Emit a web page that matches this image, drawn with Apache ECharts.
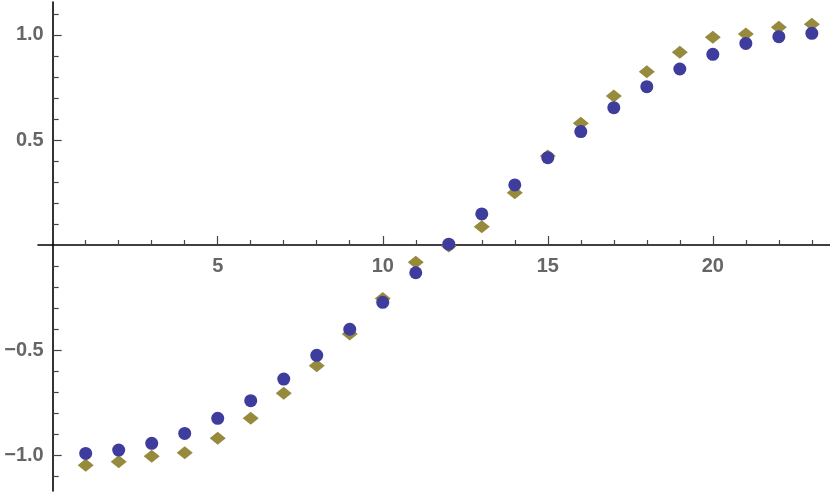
<!DOCTYPE html>
<html>
<head>
<meta charset="utf-8">
<title>ListPlot</title>
<script src="https://cdn.jsdelivr.net/npm/echarts@6/dist/echarts.min.js"></script>
<style>
	html, body { margin: 0; padding: 0; background: #fff; }
	#chart { width: 830px; height: 494px; }
</style>
</head>
<body>
<div id="chart"></div>
<script>
// x positions 1..23
var xs = [1, 2, 3, 4, 5, 6, 7, 8, 9, 10, 11, 12, 13, 14, 15, 16, 17, 18, 19, 20, 21, 22, 23];
// blue circles
var circleVals = [-0.992, -0.976, -0.944, -0.897, -0.825, -0.741, -0.638, -0.525, -0.401, -0.273, -0.132, 0.004,
	0.148, 0.286, 0.416, 0.540, 0.654, 0.754, 0.838, 0.908, 0.960, 0.992, 1.008];
// olive diamonds
var diamondVals = [-1.048, -1.032, -1.005, -0.989, -0.920, -0.825, -0.706, -0.575, -0.424, -0.254, -0.082, -0.005,
	0.087, 0.249, 0.424, 0.580, 0.710, 0.825, 0.918, 0.989, 1.005, 1.037, 1.051];
// tick labels
var xMajor = [5, 10, 15, 20];
var xMinor = [1, 2, 3, 4, 6, 7, 8, 9, 11, 12, 13, 14, 16, 17, 18, 19, 21, 22, 23];
var yMajor = [-1, -0.5, 0.5, 1];
var yMinor = [-1.1, -0.9, -0.8, -0.7, -0.6, -0.4, -0.3, -0.2, -0.1, 0.1, 0.2, 0.3, 0.4, 0.6, 0.7, 0.8, 0.9, 1.1];

var X_MIN = -0.445, X_MAX = 23.55;
var Y_MIN = -1.171, Y_MAX = 1.157;
var G_LEFT = 38, G_RIGHT = 0, G_TOP = 2, G_BOTTOM = 3;
var W = 830, H = 494;

// axes sit at the zero of the other axis, shifted there by offset
var gw = W - G_LEFT - G_RIGHT, gh = H - G_TOP - G_BOTTOM;
var xOffset = -(0 - Y_MIN) / (Y_MAX - Y_MIN) * gh;   // bottom axis moved up
var yOffset = -(0 - X_MIN) / (X_MAX - X_MIN) * gw;   // left axis moved right

function pairs(vals) {
	var out = [];
	for (var i = 0; i < xs.length; i++) {
		out.push([xs[i], vals[i]]);
	}
	return out;
}

var labelStyle = {
	color: '#666666',
	fontSize: 20,
	fontWeight: 'bold',
	fontFamily: 'Liberation Sans, Arial, sans-serif'
};

var myChart = echarts.init(document.getElementById('chart'));
myChart.setOption({
	animation: false,
	grid: { left: G_LEFT, right: G_RIGHT, top: G_TOP, bottom: G_BOTTOM, containLabel: false, outerBoundsMode: 'none' },
	xAxis: [{
		type: 'value',
		position: 'bottom',
		offset: xOffset,
		min: X_MIN,
		max: X_MAX,
		axisLine: { onZero: false, lineStyle: { color: '#000', width: 1.6 } },
		axisTick: { inside: true, length: 9, customValues: xMajor, lineStyle: { color: '#444', width: 1.2 } },
		axisLabel: Object.assign({ customValues: xMajor, margin: 11 }, labelStyle),
		splitLine: { show: false }
	}, {
		type: 'value',
		position: 'bottom',
		offset: xOffset,
		min: X_MIN,
		max: X_MAX,
		axisLine: { show: false, onZero: false },
		axisTick: { inside: true, length: 5, customValues: xMinor, lineStyle: { color: '#444', width: 1.2 } },
		axisLabel: { show: false },
		splitLine: { show: false }
	}],
	yAxis: [{
		type: 'value',
		position: 'left',
		offset: yOffset,
		min: Y_MIN,
		max: Y_MAX,
		axisLine: { onZero: false, lineStyle: { color: '#000', width: 1.6 } },
		axisTick: { inside: true, length: 9, customValues: yMajor, lineStyle: { color: '#444', width: 1.2 } },
		axisLabel: Object.assign({
			customValues: yMajor,
			margin: 9,
			formatter: function (v) {
				var s = Math.abs(v).toFixed(1);
				return v < 0 ? '\u2212' + s : s;
			}
		}, labelStyle),
		splitLine: { show: false }
	}, {
		type: 'value',
		position: 'left',
		offset: yOffset,
		min: Y_MIN,
		max: Y_MAX,
		axisLine: { show: false, onZero: false },
		axisTick: { inside: true, length: 6, customValues: yMinor, lineStyle: { color: '#444', width: 1.2 } },
		axisLabel: { show: false },
		splitLine: { show: false }
	}],
	series: [{
		name: 'diamonds',
		type: 'scatter',
		symbol: 'diamond',
		symbolSize: [16, 13],
		itemStyle: { color: '#968a3d', opacity: 1 },
		data: pairs(diamondVals)
	}, {
		name: 'circles',
		type: 'scatter',
		symbol: 'circle',
		symbolSize: 13,
		itemStyle: { color: '#3e3c9c', opacity: 1 },
		data: pairs(circleVals)
	}]
});
</script>
</body>
</html>
